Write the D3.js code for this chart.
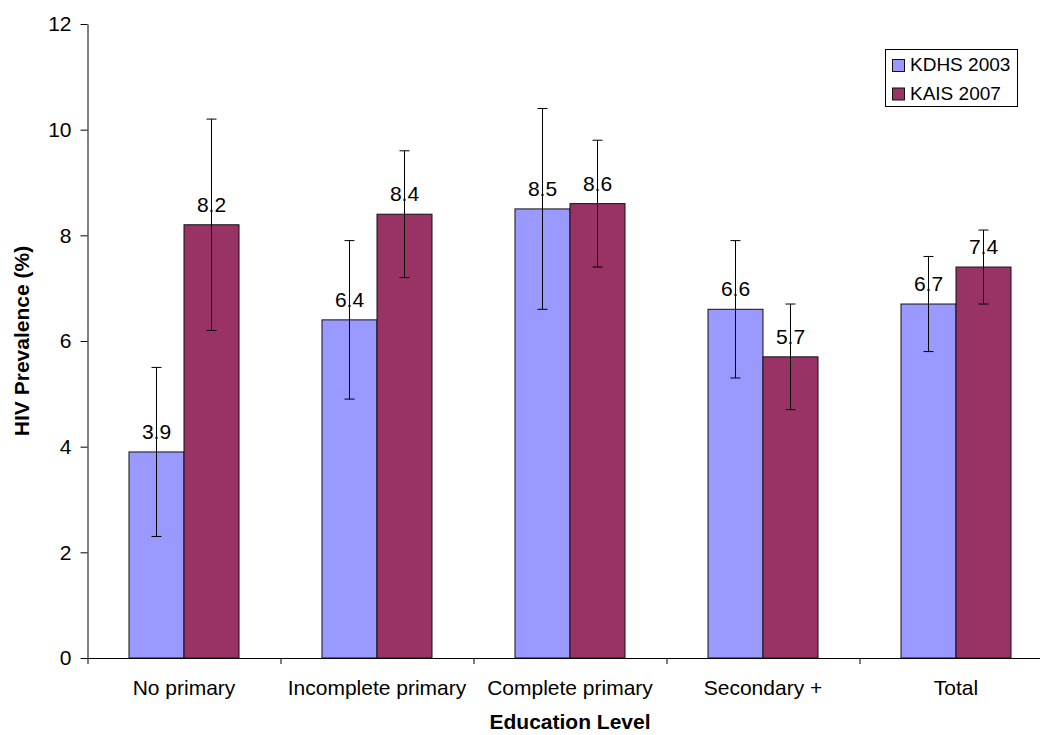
<!DOCTYPE html>
<html>
<head>
<meta charset="utf-8">
<script src="https://cdn.jsdelivr.net/npm/d3@7"></script>
<style>
  html, body { margin: 0; padding: 0; background: #fff; }
  svg { display: block; font-family: Arial, "Liberation Sans", sans-serif; }
</style>
</head>
<body>
<svg id="chart" width="1040" height="735"></svg>
<script>
const categories = ["No primary", "Incomplete primary", "Complete primary", "Secondary +", "Total"];
const seriesNames = ["KDHS 2003", "KAIS 2007"];
const kdhsValues = [3.9, 6.4, 8.5, 6.6, 6.7];
const kdhsLow    = [2.3, 4.9, 6.6, 5.3, 5.8];
const kdhsHigh   = [5.5, 7.9, 10.4, 7.9, 7.6];
const kaisValues = [8.2, 8.4, 8.6, 5.7, 7.4];
const kaisLow    = [6.2, 7.2, 7.4, 4.7, 6.7];
const kaisHigh   = [10.2, 9.6, 9.8, 6.7, 8.1];
const yTicks = [0, 2, 4, 6, 8, 10, 12];
const colors = ["#9999FF", "#993366"];

(function () {
const seriesData = [
  { name: seriesNames[0], values: kdhsValues, low: kdhsLow, high: kdhsHigh },
  { name: seriesNames[1], values: kaisValues, low: kaisLow, high: kaisHigh }
];

const svg = d3.select("#chart");
const plotLeft = 87.5, plotTop = 24, plotBottom = 658;
const step = 193;
const plotRight = plotLeft + step * categories.length;

const y = d3.scaleLinear().domain([0, 12]).range([plotBottom, plotTop]);
const x0 = d3.scaleBand().domain(categories).range([plotLeft, plotRight]).paddingInner(0.43).paddingOuter(0.215);
const x1 = d3.scaleBand().domain(seriesNames).range([0, x0.bandwidth()]);
const xBound = d3.scaleLinear().domain([0, categories.length]).range([plotLeft, plotRight]);

// bars
const groups = svg.append("g").selectAll("g")
  .data(categories)
  .join("g")
  .attr("transform", d => `translate(${x0(d)},0)`);

seriesData.forEach((s, si) => {
  groups.append("rect")
    .attr("x", () => x1(s.name))
    .attr("y", (d, i) => y(s.values[i]))
    .attr("width", x1.bandwidth())
    .attr("height", (d, i) => y(0) - y(s.values[i]))
    .attr("fill", colors[si])
    .attr("stroke", "#111")
    .attr("stroke-width", 1);
});

// axes
const yAxis = d3.axisLeft(y).tickValues(yTicks).tickSize(7).tickPadding(9).tickSizeOuter(0);
const gy = svg.append("g").attr("transform", `translate(${plotLeft},0)`).call(yAxis);
gy.selectAll("text").attr("font-size", 21).attr("fill", "#000").attr("font-family", "Arial, 'Liberation Sans', sans-serif");
gy.selectAll("line, path").attr("stroke", "#000");

const xTickAxis = d3.axisBottom(xBound).tickValues(d3.range(0, categories.length + 1)).tickSize(6).tickSizeOuter(0).tickFormat("");
const gx = svg.append("g").attr("transform", `translate(0,${plotBottom})`).call(xTickAxis);
gx.selectAll("line, path").attr("stroke", "#000");

const xLabelAxis = d3.axisBottom(x0).tickSize(0).tickPadding(22);
const gxl = svg.append("g").attr("transform", `translate(0,${plotBottom})`).call(xLabelAxis);
gxl.select(".domain").remove();
gxl.selectAll("text").attr("font-size", 21).attr("fill", "#000").attr("font-family", "Arial, 'Liberation Sans', sans-serif");

// error bars and value labels
seriesData.forEach((s, si) => {
  const cx = (i) => x0(categories[i]) + x1(s.name) + x1.bandwidth() / 2;
  const g = svg.append("g");
  categories.forEach((c, i) => {
    g.append("line").attr("x1", cx(i)).attr("x2", cx(i))
      .attr("y1", y(s.low[i])).attr("y2", y(s.high[i]))
      .attr("stroke", "#000").attr("stroke-width", 1);
    [s.low[i], s.high[i]].forEach(v => {
      g.append("line").attr("x1", cx(i) - 5).attr("x2", cx(i) + 5)
        .attr("y1", y(v)).attr("y2", y(v))
        .attr("stroke", "#000").attr("stroke-width", 1);
    });
  });
  svg.append("g").selectAll("text")
    .data(categories)
    .join("text")
    .attr("x", (d, i) => cx(i))
    .attr("y", (d, i) => y(s.values[i]) - 13)
    .attr("text-anchor", "middle")
    .attr("font-size", 21)
    .attr("fill", "#000")
    .text((d, i) => s.values[i].toFixed(1));
});

// axis titles
svg.append("text")
  .attr("x", 570)
  .attr("y", 729)
  .attr("text-anchor", "middle")
  .attr("font-size", 21)
  .attr("font-weight", "bold")
  .text("Education Level");

svg.append("text")
  .attr("transform", `translate(29,${(plotTop + plotBottom) / 2}) rotate(-90)`)
  .attr("text-anchor", "middle")
  .attr("font-size", 21)
  .attr("font-weight", "bold")
  .text("HIV Prevalence (%)");

// legend
const legend = svg.append("g");
legend.append("rect")
  .attr("x", 885.5).attr("y", 49.5).attr("width", 132).attr("height", 57)
  .attr("fill", "#fff").attr("stroke", "#000").attr("stroke-width", 1);
seriesData.forEach((s, si) => {
  const ly = 59 + si * 28.5;
  legend.append("rect")
    .attr("x", 892.5).attr("y", ly + 0.5).attr("width", 12).attr("height", 12)
    .attr("fill", colors[si]).attr("stroke", "#111").attr("stroke-width", 1);
  legend.append("text")
    .attr("x", 910).attr("y", ly + 12)
    .attr("font-size", 19)
    .attr("fill", "#000")
    .text(s.name);
});
})();
</script>
</body>
</html>
